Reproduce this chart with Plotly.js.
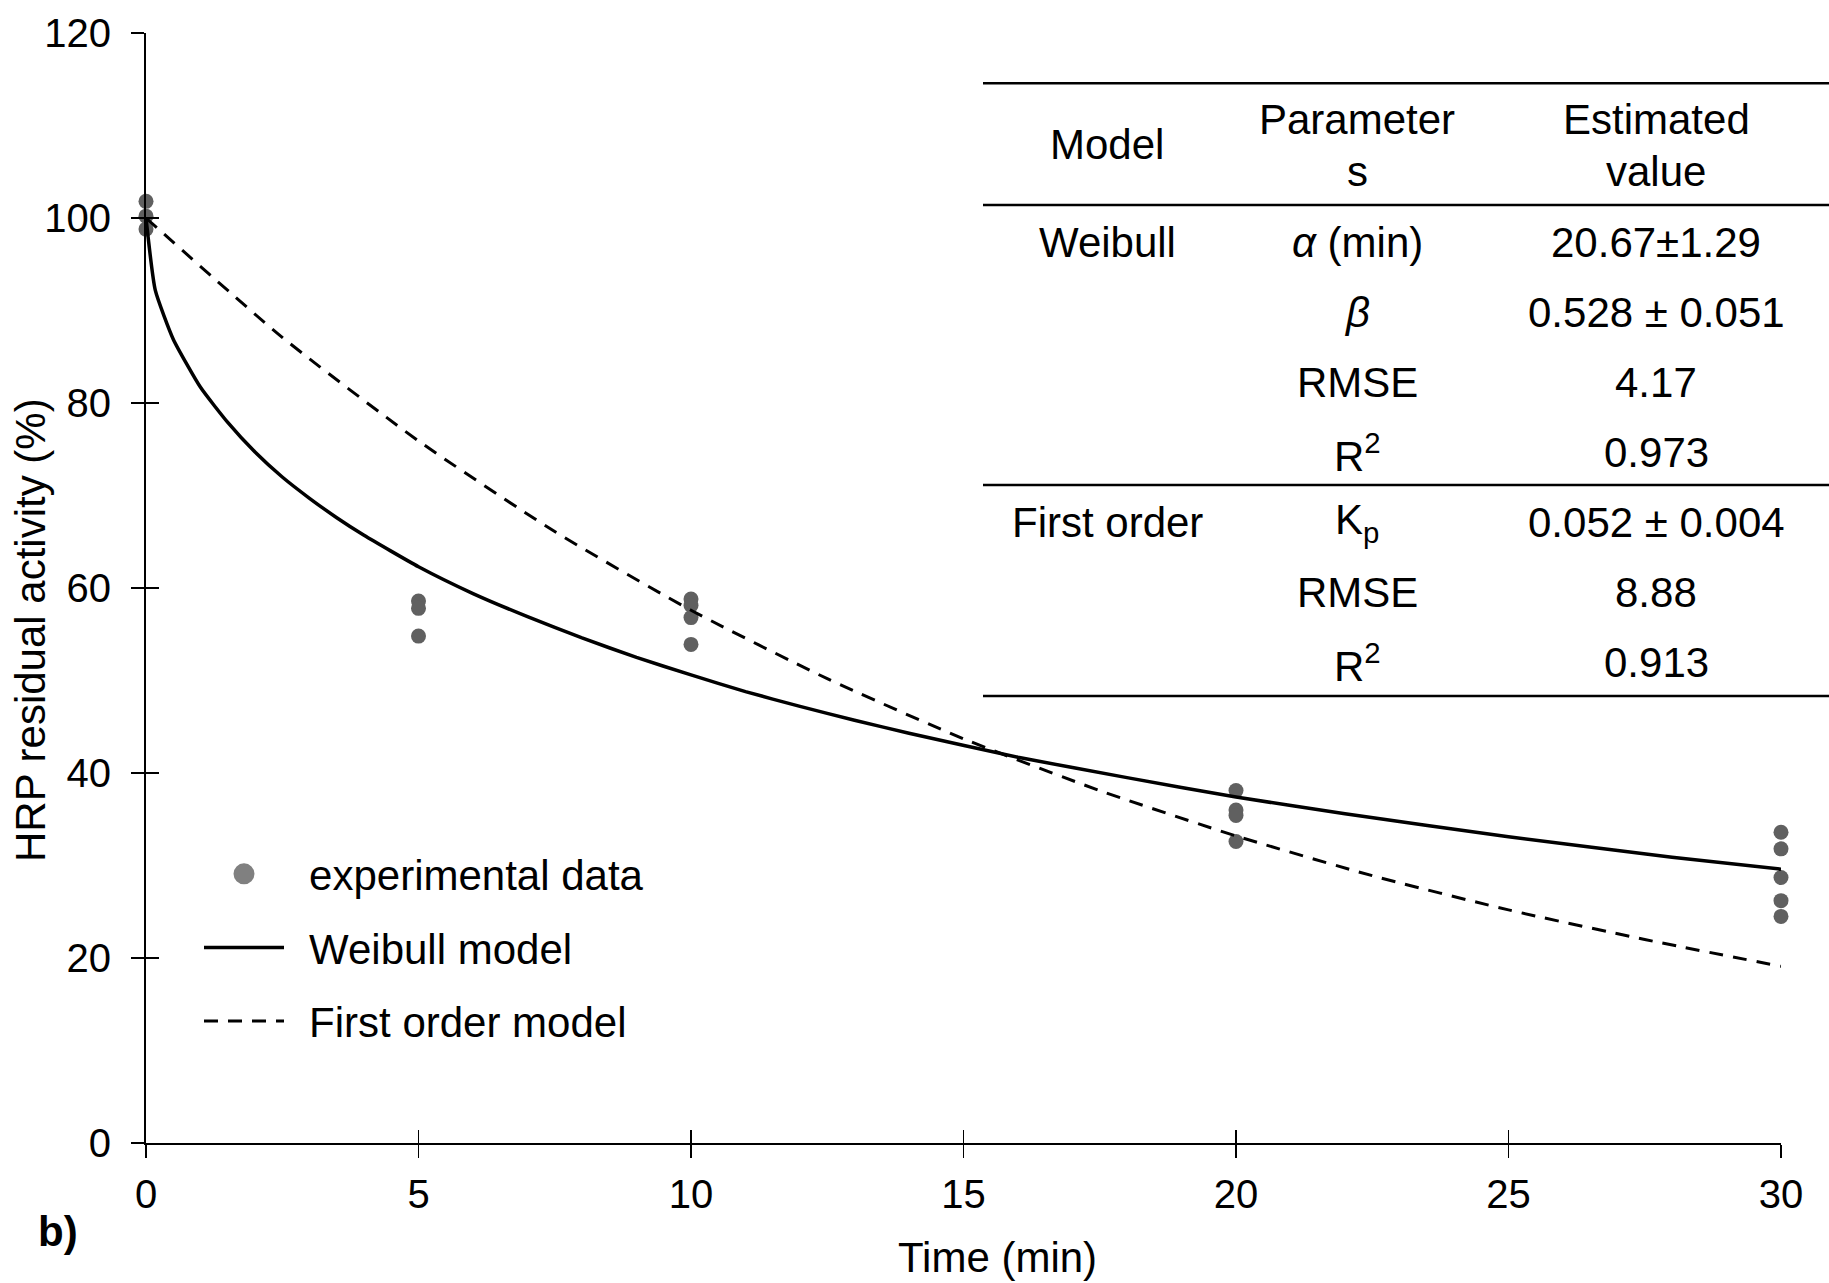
<!DOCTYPE html>
<html>
<head>
<meta charset="utf-8">
<script src="https://cdn.plot.ly/plotly-3.0.1.min.js"></script>
<style>html,body{margin:0;padding:0;background:#fff;}#chart{width:1829px;height:1283px;}</style>
</head>
<body>
<div id="chart"></div>
<script>
// ---- data ----
var expTime = [0, 0, 0, 5, 5, 5, 10, 10, 10, 10, 20, 20, 20, 20, 30, 30, 30, 30, 30];
var expActivity = [101.8, 100.2, 98.8, 58.6, 57.8, 54.8, 58.8, 58.1, 56.8, 53.9, 38.1, 36.0, 35.4, 32.6, 33.6, 31.8, 28.7, 26.2, 24.5];

var weibullTime = [0, 0.17, 0.5, 1, 1.5, 2, 2.5, 3, 3.5, 4, 5, 6, 7, 8, 9, 10, 11, 12, 13, 14, 16, 18, 20, 22, 25, 28, 30];
var weibullActivity = [100, 92.2, 86.9, 81.7, 77.9, 74.7, 72.0, 69.7, 67.6, 65.7, 62.3, 59.4, 56.9, 54.6, 52.5, 50.6, 48.8, 47.2, 45.7, 44.3, 41.7, 39.5, 37.4, 35.6, 33.1, 30.9, 29.6];

var firstOrderTime = [0, 2.5, 5, 7.5, 10, 12.5, 15, 17.5, 20, 22.5, 25, 27.5, 30];
var firstOrderActivity = [100, 87.1, 75.9, 66.1, 57.6, 50.2, 43.7, 38.1, 33.2, 28.9, 25.2, 22.0, 19.1];

var xTickVals = [0, 5, 10, 15, 20, 25, 30];
var yTickVals = [0, 20, 40, 60, 80, 100, 120];

var legendNames = ["experimental data", "Weibull model", "First order model"];

var tableHeader = [["Model"], ["Parameter", "s"], ["Estimated", "value"]];
var tableModels = ["Weibull", "", "", "", "First order", "", ""];
var tableParams = ["<i>α</i> (min)", "<i>β</i>", "RMSE", "R<sup>2</sup>", "K<sub>p</sub>", "RMSE", "R<sup>2</sup>"];
var tableValues = ["20.67±1.29", "0.528 ± 0.051", "4.17", "0.973", "0.052 ± 0.004", "8.88", "0.913"];

// ---- layout helpers (pixel -> paper) ----
var W = 1829, H = 1283;
var mL = 146, mR = 48, mT = 33, mB = 140;
var pw = W - mL - mR, ph = H - mT - mB;
function px(X) { return (X - mL) / pw; }
function py(Y) { return (H - mB - Y) / ph; }

var FONT = "Liberation Sans, Arial, sans-serif";
var GAP = "\u00a0\u2009";

var traces = [
  { type: "scatter", mode: "markers", x: expTime, y: expActivity, showlegend: false,
    marker: { color: "#606060", size: 15 }, cliponaxis: false, hoverinfo: "x+y" },
  { type: "scatter", mode: "markers", x: [null], y: [null], name: GAP + legendNames[0], legendgroup: "a",
    marker: { color: "#808080", size: 25, line: { color: "#808080", width: 5 } } },
  { type: "scatter", mode: "lines", x: weibullTime, y: weibullActivity, name: GAP + legendNames[1], legendgroup: "b",
    line: { color: "#000", width: 3.5, shape: "spline", smoothing: 0.5 } },
  { type: "scatter", mode: "lines", x: firstOrderTime, y: firstOrderActivity, name: GAP + legendNames[2], legendgroup: "c",
    line: { color: "#000", width: 3, dash: "14px,10px", shape: "spline", smoothing: 0.6 } },
  { type: "scatter", x: [], y: [], xaxis: "x2", yaxis: "y2", showlegend: false, hoverinfo: "skip" }
];

var annotations = [];
function addText(text, X, Y, opts) {
  var a = { text: text, xref: "paper", yref: "paper", x: px(X), y: py(Y), xanchor: "center", yanchor: "middle",
    showarrow: false, font: { family: FONT, size: 42, color: "#000" } };
  if (opts) { for (var k in opts) a[k] = opts[k]; }
  annotations.push(a);
}
// table header
var colX = [1107, 1357, 1656];
addText(tableHeader[0][0], colX[0], 145);
addText(tableHeader[1][0], colX[1], 120);
addText(tableHeader[1][1], colX[1], 171.5);
addText(tableHeader[2][0], colX[2], 120);
addText(tableHeader[2][1], colX[2], 171.5);
var rowY = [242.6, 312.6, 382.6, 452.6, 522.6, 592.6, 662.6];
for (var i = 0; i < rowY.length; i++) {
  if (tableModels[i]) addText(tableModels[i], colX[0], rowY[i]);
  addText(tableParams[i], colX[1], rowY[i]);
  addText(tableValues[i], colX[2], rowY[i]);
}
// axis titles and panel label
addText("HRP residual activity (%)", 30, 630, { textangle: -90 });
addText("Time (min)", 997, 1257);
addText("<b>b)</b>", 58, 1231);

var shapes = [];
[83.3, 205, 485, 696].forEach(function (Y) {
  shapes.push({ type: "line", xref: "paper", yref: "paper", x0: px(983), x1: px(1829), y0: py(Y), y1: py(Y),
    line: { color: "#000", width: 2.5 } });
});

var axisCommon = { showgrid: false, zeroline: false, tickcolor: "#000", tickwidth: 1.5, ticklen: 13,
  tickfont: { family: FONT, size: 40, color: "#000" } };

var layout = {
  width: W, height: H,
  margin: { l: mL, r: mR, t: mT, b: mB, pad: 0 },
  paper_bgcolor: "#fff", plot_bgcolor: "#fff",
  font: { family: FONT, color: "#000" },
  showlegend: true,
  legend: { x: px(199), y: py(840), xanchor: "left", yanchor: "top", bgcolor: "rgba(0,0,0,0)",
    font: { family: FONT, size: 42, color: "#000" }, itemwidth: 80, traceorder: "grouped", tracegroupgap: 16 },
  xaxis: Object.assign({}, axisCommon, { range: [0, 30], tickvals: xTickVals, ticks: "outside", showline: true,
    linecolor: "#000", linewidth: 2, ticklabelstandoff: 2 }),
  yaxis: Object.assign({}, axisCommon, { range: [0, 120], tickvals: yTickVals, ticks: "outside", showline: true,
    linecolor: "#000", linewidth: 2, ticklabelstandoff: 12 }),
  xaxis2: Object.assign({}, axisCommon, { range: [0, 30], tickvals: xTickVals, ticks: "inside", overlaying: "x",
    anchor: "y2", showticklabels: false, showline: false }),
  yaxis2: Object.assign({}, axisCommon, { range: [0, 120], tickvals: yTickVals, ticks: "inside", overlaying: "y",
    anchor: "x2", showticklabels: false, showline: false }),
  annotations: annotations,
  shapes: shapes
};

Plotly.newPlot("chart", traces, layout, { displayModeBar: false, staticPlot: true });
</script>
</body>
</html>
